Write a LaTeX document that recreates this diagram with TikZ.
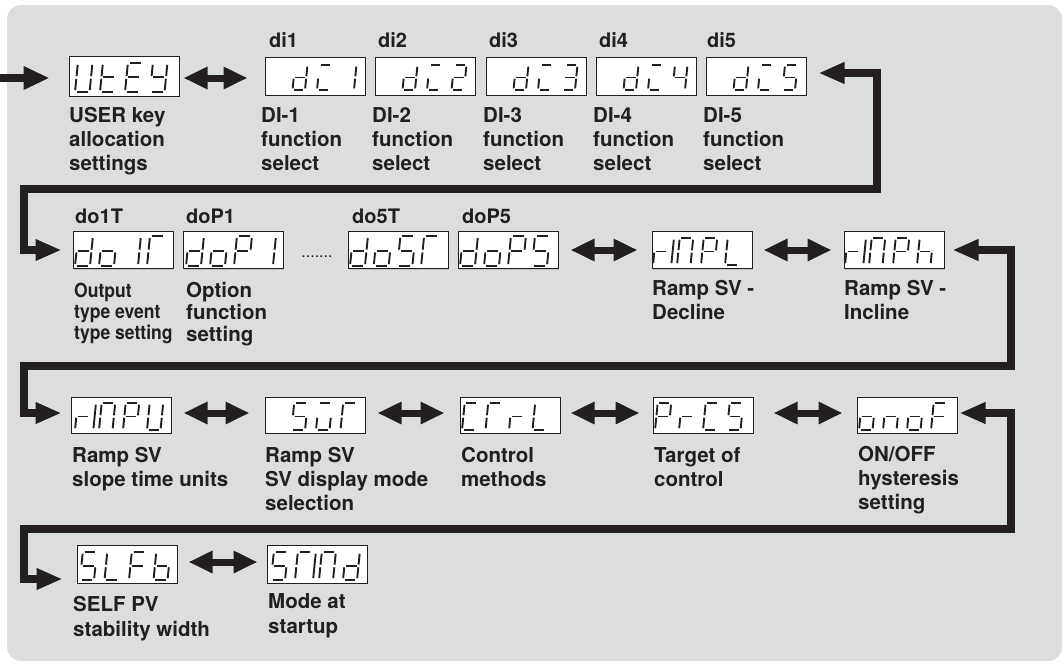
\documentclass[tikz,border=0pt]{standalone}
\usepackage{fontspec}
\setmainfont{TeX Gyre Heros}
\usetikzlibrary{arrows.meta,shadows}
\definecolor{ink}{HTML}{231F20}
\definecolor{bgc}{HTML}{DCDDDF}
% seven-segment glyph machinery
\newcommand\defglyph[2]{\expandafter\def\csname GL#1\endcsname{#2}}
\def\SGa{\draw[seg] (1.7,26)--(11.3,26);}
\def\SGb{\draw[seg] (13,24.3)--(13,14.2);}
\def\SGc{\draw[seg] (13,11.8)--(13,1.7);}
\def\SGd{\draw[seg] (1.7,0)--(11.3,0);}
\def\SGe{\draw[seg] (0,1.7)--(0,11.8);}
\def\SGf{\draw[seg] (0,14.2)--(0,24.3);}
\def\SGg{\draw[seg] (1.7,13)--(11.3,13);}
\def\SGm{\draw[seg] (-5.5,1.7)--(-5.5,24.3);}
\defglyph{Z}{}
\defglyph{U}{b,c,d,e,f}
\defglyph{t}{d,e,f,g}
\defglyph{E}{a,d,e,f,g}
\defglyph{Y}{b,c,d,f,g}
\defglyph{d}{b,c,d,e,g}
\defglyph{I}{a,d,e}
\defglyph{1}{b,c}
\defglyph{2}{a,b,d,e,g}
\defglyph{3}{a,b,c,d,g}
\defglyph{4}{b,c,f,g}
\defglyph{5}{a,c,d,f,g}
\defglyph{S}{a,c,d,f,g}
\defglyph{o}{c,d,e,g}
\defglyph{T}{a,e,f}
\defglyph{P}{a,b,e,f,g}
\defglyph{r}{e,g}
\defglyph{M}{m,a,b,c,e,f}
\defglyph{L}{d,e,f}
\defglyph{h}{c,e,f,g}
\defglyph{v}{a,c,d,e}
\defglyph{C}{a,d,e,f}
\defglyph{n}{c,e,g}
\defglyph{F}{a,e,f,g}
\defglyph{b}{c,d,e,f,g}
\newcommand\glyphs[5]{%
  \foreach \gch [count=\gi from 0] in {#5}{%
    \edef\segs{\csname GL\gch\endcsname}%
    \begin{scope}[shift={({#1+\gi*#3},{-#2})},xslant=0.1,scale=#4]
      \foreach \gs in \segs {\csname SG\gs\endcsname}
    \end{scope}}}
\tikzset{
  seg/.style={line width=1.9pt,draw=ink,line cap=butt},
  disp/.style={draw=ink,fill=white,line width=1pt,inner sep=0pt,
    drop shadow={opacity=0.3,shadow xshift=1.4pt,shadow yshift=-1.4pt}},
  lab/.style={anchor=base west,inner sep=0pt,align=left,text=ink,
    font=\fontsize{20.5}{24}\selectfont\bfseries},
  tag/.style={anchor=base west,inner sep=0pt,text=ink,
    font=\fontsize{20}{24}\selectfont\bfseries},
  dbl/.style={draw=ink,line width=7pt,
    {Triangle[length=24pt,width=21pt]}-{Triangle[length=24pt,width=21pt]}},
  conn/.style={draw=ink,line width=7.5pt,line join=miter}
}
\begin{document}
\begin{tikzpicture}[x=1pt,y=1pt]
\useasboundingbox (0,0) rectangle (1064,-664);
\fill[bgc,rounded corners=14pt] (7,-5) rectangle (1062,-661);

% ---------- row 1 ----------
\node[disp,minimum width=110pt,minimum height=40pt] (ut) at (124,-76) {};
\node[disp,minimum width=100pt,minimum height=38pt] (d1) at (315,-76) {};
\node[disp,minimum width=100pt,minimum height=38pt] (d2) at (425,-76) {};
\node[disp,minimum width=100pt,minimum height=38pt] (d3) at (536,-76) {};
\node[disp,minimum width=100pt,minimum height=38pt] (d4) at (646,-76) {};
\node[disp,minimum width=100pt,minimum height=38pt] (d5) at (756,-76) {};
\glyphs{75}{92}{25}{1.12}{U,t,E,Y}
\glyphs{268}{90}{24.5}{0.96}{Z,d,I,1}
\glyphs{378}{90}{24.5}{0.96}{Z,d,I,2}
\glyphs{489}{90}{24.5}{0.96}{Z,d,I,3}
\glyphs{599}{90}{24.5}{0.96}{Z,d,I,4}
\glyphs{709}{90}{24.5}{0.96}{Z,d,I,5}
\node[tag] (t1) at (269,-47) {di1};
\node[tag] (t2) at (378,-47) {di2};
\node[tag] (t3) at (489,-47) {di3};
\node[tag] (t4) at (599,-47) {di4};
\node[tag] (t5) at (707,-47) {di5};
\node[lab] (l0) at (69,-170) {USER key\\allocation\\settings};
\node[lab] (l1) at (261,-170) {DI-1\\function\\select};
\node[lab] (l2) at (372,-170) {DI-2\\function\\select};
\node[lab] (l3) at (483,-170) {DI-3\\function\\select};
\node[lab] (l4) at (593,-170) {DI-4\\function\\select};
\node[lab] (l5) at (703,-170) {DI-5\\function\\select};

% ---------- row 2 ----------
\node[disp,minimum width=100pt,minimum height=37pt] (o1) at (123,-250) {};
\node[disp,minimum width=100pt,minimum height=37pt] (p1) at (233,-250) {};
\node[disp,minimum width=100pt,minimum height=37pt] (o5) at (398,-250) {};
\node[disp,minimum width=100pt,minimum height=37pt] (p5) at (508,-250) {};
\node[disp,minimum width=100pt,minimum height=37pt] (ml) at (702,-250) {};
\node[disp,minimum width=100pt,minimum height=37pt] (mh) at (894,-250) {};
\glyphs{75}{266}{24}{1.15}{d,o,1,T}
\glyphs{186}{266}{24}{1.15}{d,o,P,1}
\glyphs{350}{266}{23.7}{1.15}{d,o,S,T}
\glyphs{460}{266}{24}{1.15}{d,o,P,S}
\glyphs{653}{265}{24}{1.04}{r,M,P,L}
\glyphs{845}{265}{24}{1.04}{r,M,P,h}
\node[anchor=base,inner sep=0pt,text=ink,font=\fontsize{16}{16}\selectfont] (dots) at (317,-257) {.......};
\node[tag] (t6) at (75,-223) {do1T};
\node[tag] (t7) at (186,-223) {doP1};
\node[tag] (t8) at (352,-223) {do5T};
\node[tag] (t9) at (462,-223) {doP5};
\node[lab,font=\fontsize{19.5}{21}\selectfont\bfseries,xscale=0.9,transform shape] (l6) at (74,-339) {Output\\type event\\type setting};
\node[lab,font=\fontsize{20.5}{22}\selectfont\bfseries] (l7) at (186,-341) {Option\\function\\setting};
\node[lab] (l8) at (652,-319) {Ramp SV -\\Decline};
\node[lab] (l9) at (844,-319) {Ramp SV -\\Incline};

% ---------- row 3 ----------
\node[disp,minimum width=100pt,minimum height=36pt] (mu) at (121,-415) {};
\node[disp,minimum width=100pt,minimum height=36pt] (sv) at (315,-415) {};
\node[disp,minimum width=100pt,minimum height=36pt] (ct) at (510,-415) {};
\node[disp,minimum width=100pt,minimum height=36pt] (pr) at (703,-415) {};
\node[disp,minimum width=100pt,minimum height=36pt] (on) at (907,-415) {};
\glyphs{75}{430}{24}{1.04}{r,M,P,U}
\glyphs{267}{430}{24.5}{1.04}{Z,S,v,T}
\glyphs{462}{430}{23.5}{1.04}{C,T,r,L}
\glyphs{655}{430}{24}{1.04}{P,r,C,S}
\glyphs{859}{430}{24}{1.04}{o,n,o,F}
\node[lab] (l10) at (72,-486) {Ramp SV\\slope time units};
\node[lab] (l11) at (265,-510) {Ramp SV\\SV display mode\\selection};
\node[lab] (l12) at (461,-486) {Control\\methods};
\node[lab] (l13) at (654,-486) {Target of\\control};
\node[lab] (l14) at (858,-509) {ON/OFF\\hysteresis\\setting};

% ---------- row 4 ----------
\node[disp,minimum width=100pt,minimum height=38pt] (sl) at (127,-564) {};
\node[disp,minimum width=100pt,minimum height=38pt] (sm) at (317,-564) {};
\glyphs{80}{580}{24.5}{1.08}{S,L,F,b}
\glyphs{271}{580}{24}{1.08}{S,T,M,d}
\node[lab,font=\fontsize{20.5}{25}\selectfont\bfseries] (l15) at (73,-636) {SELF PV\\stability width};
\node[lab,font=\fontsize{20.5}{25}\selectfont\bfseries] (l16) at (268,-633) {Mode at\\startup};

% ---------- connectors ----------
\coordinate (in) at (0,-78);
\draw[conn,-{Triangle[length=26pt,width=22pt]}] (in) -- ([xshift=-19pt,yshift=-2pt]ut.west);
\draw[dbl] ([xshift=4pt,yshift=-2pt]ut.east) -- ([xshift=-17pt,yshift=-2pt]d1.west);

\draw[conn,{Triangle[length=26pt,width=20pt]}-{Triangle[length=26pt,width=20pt]}]
  ([xshift=12pt,yshift=3pt]d5.east) -| (877,-189) -- (24,-189) |- ([xshift=-11pt]o1.west);
\draw[dbl] ([xshift=12pt]p5.east) -- ([xshift=-14pt]ml.west);
\draw[dbl] ([xshift=11pt]ml.east) -- ([xshift=-12pt]mh.west);

\draw[conn,{Triangle[length=26pt,width=20pt]}-{Triangle[length=26pt,width=20pt]}]
  ([xshift=8pt]mh.east) -| (1011,-366) -- (24,-366) |- ([xshift=-9pt,yshift=2pt]mu.west);
\draw[dbl] ([xshift=12pt,yshift=2pt]mu.east) -- ([xshift=-15pt,yshift=2pt]sv.west);
\draw[dbl] ([xshift=12pt,yshift=2pt]sv.east) -- ([xshift=-15pt,yshift=2pt]ct.west);
\draw[dbl] ([xshift=10pt,yshift=2pt]ct.east) -- ([xshift=-13pt,yshift=2pt]pr.west);
\draw[dbl] ([xshift=20pt,yshift=2pt]pr.east) -- ([xshift=-14pt,yshift=2pt]on.west);

\draw[conn,{Triangle[length=26pt,width=20pt]}-{Triangle[length=26pt,width=20pt]}]
  ([xshift=2pt,yshift=2pt]on.east) -| (1011,-529) -- (24,-529) |- ([xshift=-14pt,yshift=-15pt]sl.west);
\draw[dbl] ([xshift=11pt,yshift=2pt]sl.east) -- ([xshift=-9pt,yshift=2pt]sm.west);
\end{tikzpicture}
\end{document}
